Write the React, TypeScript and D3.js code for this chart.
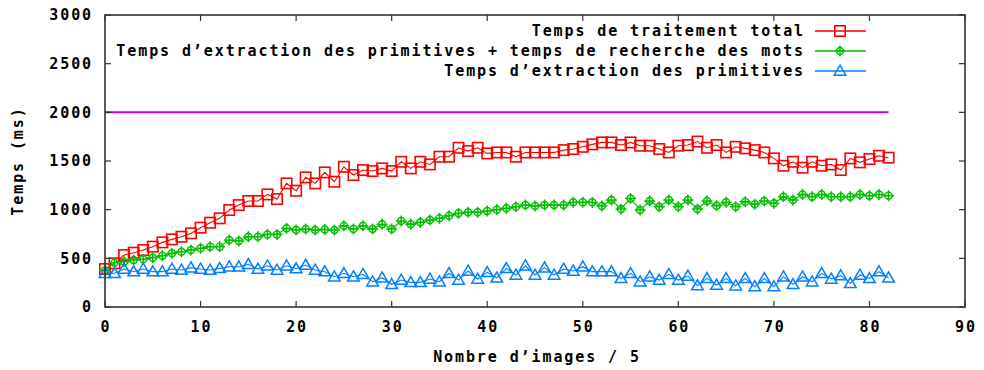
import React from "react";
import * as d3 from "d3";

const xTicks = [0, 10, 20, 30, 40, 50, 60, 70, 80, 90];
const yTicks = [0, 500, 1000, 1500, 2000, 2500, 3000];

const totalTime = [390, 449, 534, 558, 585, 620, 664, 695, 722, 757, 815, 866, 911, 996, 1047, 1089, 1089, 1157, 1109, 1270, 1195,
  1332, 1270, 1383, 1287, 1441, 1356, 1407, 1397, 1424, 1397, 1492, 1424, 1492, 1465, 1544, 1544, 1636, 1602, 1636, 1578,
  1588, 1588, 1544, 1588, 1588, 1588, 1588, 1612, 1623, 1646, 1671, 1691, 1691, 1664, 1691, 1657, 1657, 1623, 1588, 1657,
  1664, 1700, 1636, 1664, 1588, 1646, 1630, 1612, 1588, 1527, 1451, 1492, 1431, 1492, 1451, 1465, 1407, 1527, 1486, 1520,
  1554, 1534];

const extractSearch = [378, 455, 465, 483, 490, 507, 527, 551, 568, 585, 603, 620, 620, 688, 678, 722, 722, 746, 746, 808, 791,
  801, 791, 797, 791, 835, 801, 835, 801, 849, 801, 883, 849, 870, 893, 911, 938, 962, 973, 973, 986,
  1000, 1014, 1030, 1048, 1038, 1048, 1048, 1048, 1075, 1075, 1075, 1038, 1099, 1007, 1116, 996, 1089, 1030, 1099, 1030,
  1099, 1007, 1089, 1041, 1075, 1030, 1082, 1055, 1089, 1065, 1133, 1099, 1157, 1133, 1157, 1133, 1133, 1133, 1157, 1143,
  1157, 1143];

const extractOnly = [346, 346, 390, 363, 390, 363, 363, 390, 380, 404, 390, 380, 397, 414, 414, 438, 390, 424, 380, 424, 394,
  431, 380, 363, 311, 346, 311, 336, 260, 301, 233, 277, 253, 253, 288, 260, 346, 277, 370, 288, 356,
  300, 397, 329, 424, 329, 404, 329, 390, 370, 414, 363, 363, 363, 294, 346, 260, 311, 277, 336, 277,
  318, 220, 294, 226, 294, 219, 294, 209, 294, 209, 311, 233, 311, 260, 346, 288, 322, 243, 329, 294,
  363, 300];

const thresholdX = [0, 82];
const thresholdY = [2000, 2000];

const labels = [
  "Temps de traitement total",
  "Temps d\u2019extraction des primitives + temps de recherche des mots",
  "Temps d\u2019extraction des primitives",
];

const W = 984, H = 370;
const left = 105, right = 965, top = 15, bottom = 307;
const FONT = "'DejaVu Sans Mono', monospace";
const RED = "#ff0000", GREEN = "#00c000", BLUE = "#0080ff", PURPLE = "#c000ff";

const x = d3.scaleLinear().domain([0, 90]).range([left, right]);
const y = d3.scaleLinear().domain([0, 3000]).range([bottom, top]);

type MarkerKind = "square" | "circle" | "triangle";

function Marker({ kind, cx, cy, color }: { kind: MarkerKind; cx: number; cy: number; color: string }) {
  if (kind === "square") {
    return <rect x={cx - 5.2} y={cy - 5.2} width={10.4} height={10.4} fill="none" stroke={color} strokeWidth={1.6} />;
  }
  if (kind === "circle") {
    return (
      <g stroke={color} strokeWidth={1.5} fill="none">
        <circle cx={cx} cy={cy} r={3.5} />
        <line x1={cx} x2={cx} y1={cy - 5.5} y2={cy + 5.5} />
        <line x1={cx - 5.5} x2={cx + 5.5} y1={cy} y2={cy} />
      </g>
    );
  }
  const p = `M${cx},${cy - 5.8} L${cx + 5.8},${cy + 4.2} L${cx - 5.8},${cy + 4.2} Z`;
  return <path d={p} fill="none" stroke={color} strokeWidth={1.5} />;
}

const series: { values: number[]; color: string; kind: MarkerKind }[] = [
  { values: totalTime, color: RED, kind: "square" },
  { values: extractSearch, color: GREEN, kind: "circle" },
  { values: extractOnly, color: BLUE, kind: "triangle" },
];

export default function App() {
  const line = d3.line<number>().x((_, i) => x(i)).y((v) => y(v));
  const thLine = d3.line<number>().x((v) => x(v)).y((_, i) => y(thresholdY[i]));
  const textStyle: React.CSSProperties = { fontFamily: FONT, fontWeight: "bold", fontSize: 15, letterSpacing: "1.9px" };
  const tickLen = 6;
  return (
    <svg width={W} height={H} style={{ position: "absolute", left: 0, top: 0, background: "#fff" }}>
      <rect width={W} height={H} fill="#fff" />
      <path d={thLine(thresholdX) || ""} stroke={PURPLE} strokeWidth={2} fill="none" />
      {series.map((s, si) => (
        <g key={si}>
          <path d={line(s.values) || ""} stroke={s.color} strokeWidth={1.1} fill="none" />
          {s.values.map((v, i) => (
            <Marker key={i} kind={s.kind} cx={x(i)} cy={y(v)} color={s.color} />
          ))}
        </g>
      ))}
      <rect x={left} y={top} width={right - left} height={bottom - top} fill="none" stroke="#333" strokeWidth={1.6} />
      <g stroke="#333" strokeWidth={1.2}>
        {xTicks.map((t) => (
          <g key={"xt" + t}>
            <line x1={x(t)} x2={x(t)} y1={bottom} y2={bottom - tickLen} />
            <line x1={x(t)} x2={x(t)} y1={top} y2={top + tickLen} />
          </g>
        ))}
        {yTicks.map((t) => (
          <g key={"yt" + t}>
            <line x1={left} x2={left + tickLen} y1={y(t)} y2={y(t)} />
            <line x1={right} x2={right - tickLen} y1={y(t)} y2={y(t)} />
          </g>
        ))}
      </g>
      {xTicks.map((t) => (
        <text key={"xl" + t} x={x(t) + 1} y={327} dy="0.35em" textAnchor="middle" style={textStyle}>
          {t}
        </text>
      ))}
      {yTicks.map((t) => (
        <text key={"yl" + t} x={93} y={y(t)} dy="0.35em" textAnchor="end" style={textStyle}>
          {t}
        </text>
      ))}
      <text x={537} y={357} dy="0.35em" textAnchor="middle" style={textStyle}>
        Nombre d{"\u2019"}images / 5
      </text>
      <text transform={`translate(18,${(top + bottom) / 2}) rotate(-90)`} dy="0.35em" textAnchor="middle" style={textStyle}>
        Temps (ms)
      </text>
      {series.map((s, i) => {
        const ly = 31 + i * 20;
        return (
          <g key={"lg" + i}>
            <text x={805} y={ly} dy="0.35em" textAnchor="end" style={textStyle}>
              {labels[i]}
            </text>
            <line x1={815} x2={866} y1={ly} y2={ly} stroke={s.color} strokeWidth={1.6} />
            <Marker kind={s.kind} cx={840} cy={ly} color={s.color} />
          </g>
        );
      })}
    </svg>
  );
}
